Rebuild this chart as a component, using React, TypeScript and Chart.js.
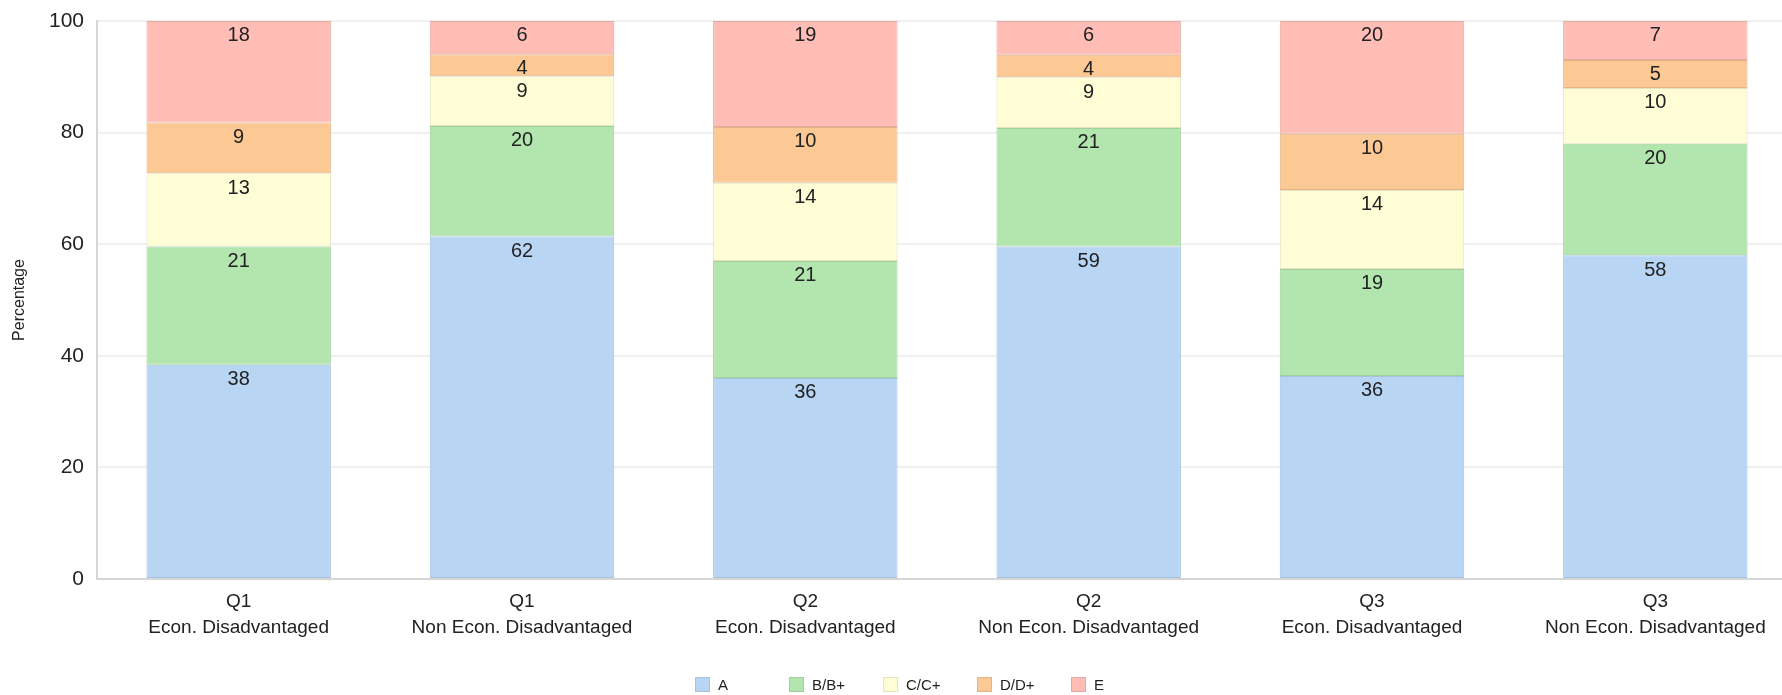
import React, { useEffect, useRef } from "react";
import { Chart, registerables } from "chart.js";

Chart.register(...registerables);

// ---- data ----
const categories: string[][] = [
  ["Q1", "Econ. Disadvantaged"],
  ["Q1", "Non Econ. Disadvantaged"],
  ["Q2", "Econ. Disadvantaged"],
  ["Q2", "Non Econ. Disadvantaged"],
  ["Q3", "Econ. Disadvantaged"],
  ["Q3", "Non Econ. Disadvantaged"],
];
const seriesNames = ["A", "B/B+", "C/C+", "D/D+", "E"];
const gradeA = [38, 62, 36, 59, 36, 58];
const gradeB = [21, 20, 21, 21, 19, 20];
const gradeC = [13, 9, 14, 9, 14, 10];
const gradeD = [9, 4, 10, 4, 10, 5];
const gradeE = [18, 6, 19, 6, 20, 7];
const yTickStep = 20;
const yMax = 100;
const yTitle = "Percentage";

// ---- styles ----
const fillColors = ["#b8d6f4", "#b2e6ae", "#fffdd6", "#fcc894", "#ffbdb6"];
const edgeColors = ["#a6c2de", "#a0d09c", "#e4e2c0", "#e2b486", "#e3aaa4"];
const SANS = '"Liberation Sans", Arial, sans-serif';
const TEXT = "#222";

const seriesValues = [gradeA, gradeB, gradeC, gradeD, gradeE];
const totals = categories.map((_, i) => seriesValues.reduce((s, arr) => s + arr[i], 0));

const valueLabels = {
  id: "valueLabels",
  afterDatasetsDraw(chart: any) {
    const ctx = chart.ctx;
    ctx.save();
    const size = 20;
    ctx.font = `${size}px ${SANS}`;
    ctx.fillStyle = TEXT;
    ctx.textAlign = "center";
    ctx.textBaseline = "alphabetic";
    chart.data.datasets.forEach((ds: any, di: number) => {
      const meta = chart.getDatasetMeta(di);
      meta.data.forEach((el: any, i: number) => {
        const { x, y } = el.getProps(["x", "y"], true);
        ctx.fillText(String(ds.rawValues[i]), x, y + 6 + 0.716 * size);
      });
    });
    ctx.restore();
  },
};

const customLegend = {
  id: "customLegend",
  afterDraw(chart: any) {
    const ctx = chart.ctx;
    ctx.save();
    ctx.font = `15px ${SANS}`;
    const step = 94;
    const box = 15;
    const gap = 8;
    const items = chart.data.datasets;
    const lastW = ctx.measureText(items[items.length - 1].label).width;
    const total = step * (items.length - 1) + box + gap + lastW;
    let x = Math.round(chart.width / 2 - total / 2);
    const cy = 684.5;
    items.forEach((ds: any) => {
      ctx.fillStyle = ds.backgroundColor;
      ctx.fillRect(x, cy - box / 2, box, box);
      ctx.strokeStyle = ds.borderColor;
      ctx.lineWidth = 1;
      ctx.strokeRect(x + 0.5, cy - box / 2 + 0.5, box - 1, box - 1);
      ctx.fillStyle = TEXT;
      ctx.textAlign = "left";
      ctx.textBaseline = "middle";
      ctx.fillText(ds.label, x + box + gap, cy + 1);
      x += step;
    });
    ctx.restore();
  },
};

export default function App() {
  const ref = useRef<HTMLCanvasElement>(null);

  useEffect(() => {
    if (!ref.current) return;
    const chart = new Chart(ref.current, {
      type: "bar",
      data: {
        labels: categories,
        datasets: seriesNames.map((name, si) => ({
          label: name,
          data: seriesValues[si].map((v, i) => (v / totals[i]) * 100),
          rawValues: seriesValues[si],
          backgroundColor: fillColors[si],
          borderColor: edgeColors[si],
          borderWidth: 1,
          borderSkipped: false,
          categoryPercentage: 1,
          barPercentage: 0.651,
        })) as any,
      },
      options: {
        responsive: false,
        animation: false,
        devicePixelRatio: 1,
        layout: { padding: { top: 21, right: 3, bottom: 56, left: 0 } },
        plugins: {
          legend: { display: false },
          tooltip: { enabled: false },
        },
        scales: {
          x: {
            stacked: true,
            grid: { display: false, drawTicks: false },
            border: { display: true, color: "#d6d6d6", width: 2 },
            ticks: {
              font: { family: SANS, size: 19, lineHeight: 1.4 },
              color: TEXT,
              padding: 9,
              maxRotation: 0,
              autoSkip: false,
            },
            afterFit: (s: any) => {
              s.height = 60;
            },
          },
          y: {
            stacked: true,
            min: 0,
            max: yMax,
            ticks: {
              stepSize: yTickStep,
              font: { family: SANS, size: 21, lineHeight: 0.6 },
              color: TEXT,
              padding: 13,
            },
            grid: { color: "#f0f0f0", lineWidth: 2, drawTicks: false },
            border: { display: true, color: "#d6d6d6", width: 2 },
            title: {
              display: true,
              text: yTitle,
              font: { family: SANS, size: 16 },
              color: TEXT,
              padding: { top: 10, bottom: 0 },
            },
            afterFit: (s: any) => {
              s.width = 97;
            },
          },
        },
      } as any,
      plugins: [valueLabels, customLegend],
    });
    return () => chart.destroy();
  }, []);

  return (
    <div
      style={{
        position: "absolute",
        left: 0,
        top: 0,
        width: 1782,
        height: 695,
        overflow: "hidden",
        background: "#fff",
      }}
    >
      <canvas
        ref={ref}
        width={1800}
        height={695}
        style={{ display: "block", width: 1800, height: 695 }}
      />
    </div>
  );
}
